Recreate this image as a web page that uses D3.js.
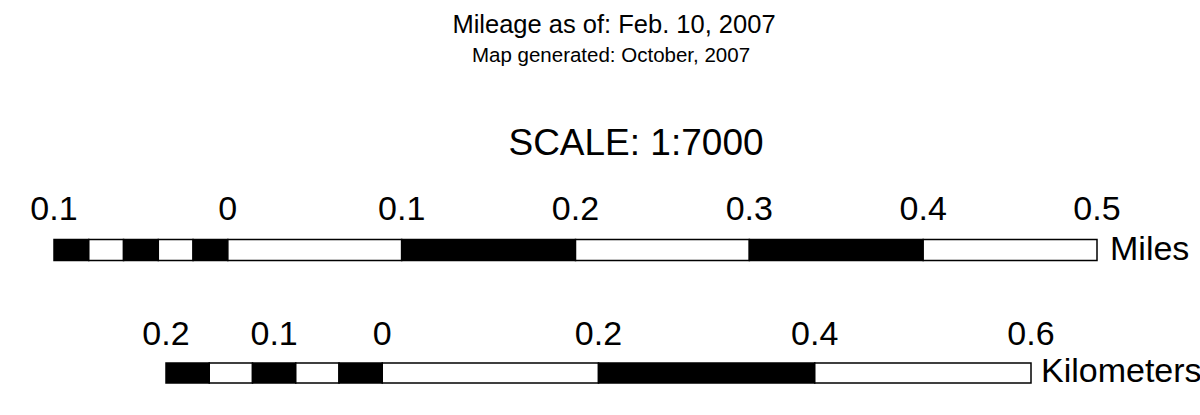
<!DOCTYPE html>
<html>
<head>
<meta charset="utf-8">
<script src="https://cdn.jsdelivr.net/npm/d3@7"></script>
<style>
  html, body { margin: 0; padding: 0; background: #fff; }
  svg { display: block; font-family: "Liberation Sans", Arial, Helvetica, sans-serif; }
</style>
</head>
<body>
<svg id="chart" width="1200" height="415"></svg>
<script>
// ---- data ----
const titleText = "Mileage as of: Feb. 10, 2007";
const subtitleText = "Map generated: October, 2007";
const scaleText = "SCALE: 1:7000";

const milesTickValues = [-0.1, 0, 0.1, 0.2, 0.3, 0.4, 0.5];
const milesTickLabels = ["0.1", "0", "0.1", "0.2", "0.3", "0.4", "0.5"];
// segment boundaries (miles), fill alternates black / white
const milesBreaks = [-0.1, -0.08, -0.06, -0.04, -0.02, 0, 0.1, 0.2, 0.3, 0.4, 0.5];
const milesFills  = ["black", "white", "black", "white", "black", "white", "black", "white", "black", "white"];

const kmTickValues = [-0.2, -0.1, 0, 0.2, 0.4, 0.6];
const kmTickLabels = ["0.2", "0.1", "0", "0.2", "0.4", "0.6"];
const kmBreaks = [-0.2, -0.16, -0.12, -0.08, -0.04, 0, 0.2, 0.4, 0.6];
const kmFills  = ["black", "white", "black", "white", "black", "white", "black", "white"];

const unitLabels = ["Miles", "Kilometers"];

// ---- drawing ----
const svg = d3.select("#chart");

svg.append("text").attr("x", 614).attr("y", 33).attr("text-anchor", "middle")
  .attr("font-size", 25.5).text(titleText);
svg.append("text").attr("x", 611).attr("y", 62).attr("text-anchor", "middle")
  .attr("font-size", 20.5).text(subtitleText);
svg.append("text").attr("x", 636).attr("y", 155).attr("text-anchor", "middle")
  .attr("font-size", 37).text(scaleText);

function drawBar(opts) {
  const { breaks, fills, ticks, labels, x, yTop, h, labelY, unit, unitX } = opts;
  const g = svg.append("g");
  const segs = fills.map((f, i) => ({ a: breaks[i], b: breaks[i + 1], fill: f }));
  g.selectAll("rect.seg").data(segs).join("rect")
    .attr("class", "seg")
    .attr("x", d => x(d.a))
    .attr("y", yTop)
    .attr("width", d => x(d.b) - x(d.a))
    .attr("height", h)
    .attr("fill", d => d.fill)
    .attr("stroke", "#000")
    .attr("stroke-width", 1.5);
  g.selectAll("text.tick").data(ticks).join("text")
    .attr("class", "tick")
    .attr("x", d => x(d))
    .attr("y", labelY)
    .attr("text-anchor", "middle")
    .attr("font-size", 34)
    .text((d, i) => labels[i]);
  g.append("text")
    .attr("x", x(breaks[breaks.length - 1]) + unitX)
    .attr("y", yTop + h - 1)
    .attr("font-size", 34)
    .text(unit);
}

const xMiles = d3.scaleLinear().domain([-0.1, 0.5]).range([54, 1097]);
const xKm = d3.scaleLinear().domain([-0.2, 0.6]).range([166, 1031]);

drawBar({ breaks: milesBreaks, fills: milesFills, ticks: milesTickValues, labels: milesTickLabels,
  x: xMiles, yTop: 239.5, h: 21, labelY: 220, unit: unitLabels[0], unitX: 13 });
drawBar({ breaks: kmBreaks, fills: kmFills, ticks: kmTickValues, labels: kmTickLabels,
  x: xKm, yTop: 363, h: 20, labelY: 345, unit: unitLabels[1], unitX: 10 });
</script>
</body>
</html>
